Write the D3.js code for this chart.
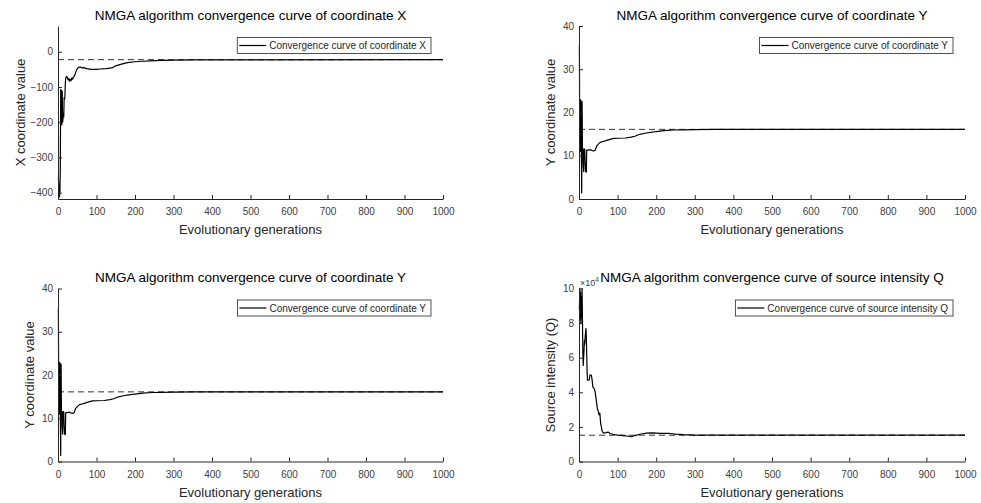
<!DOCTYPE html>
<html>
<head>
<meta charset="utf-8">
<script src="https://cdn.jsdelivr.net/npm/d3@7"></script>
<style>
body { margin: 0; background: #fff; }
svg text { font-family: "Liberation Sans", Arial, Helvetica, sans-serif; }
</style>
</head>
<body>
<script>
//generation ticks shared by all four panels
var genTicks = [0, 100, 200, 300, 400, 500, 600, 700, 800, 900, 1000];

//convergence curve of coordinate X: [generation, value]
var curveX = [[1,-358],[2,-380],[3,-405],[4,-412],[5,-395],[6,-330],[7,-107],[8,-205],[9,-110],[10,-208],
    [11,-112],[12,-200],[13,-190],[14,-175],[15,-185],[16,-130],[17,-135],[18,-125],[19,-90],[20,-75],
    [22,-70],[24,-72],[26,-80],[28,-76],[30,-84],[32,-78],[34,-82],[36,-74],[38,-78],[40,-72],
    [43,-68],[46,-58],[50,-48],[54,-44],[58,-43],[62,-46],[66,-45],[75,-48],[85,-50],[100,-50],
    [110,-49],[125,-48],[140,-46],[150,-40],[165,-35],[180,-31],[200,-28.5],[220,-27],[240,-25.8],
    [270,-24.8],[300,-24],[350,-23],[1000,-22.5]];

//convergence curve of coordinate Y
var curveY = [[1,35.4],[2,12],[3,23],[4,11],[5,22.8],[6,11.5],[7,1.4],[8,22.5],[9,11.3],[10,11.6],
    [11,8],[12,6.3],[13,11.5],[14,11.6],[15,11.4],[16,8],[17,6.3],[18,6.5],[19,6.2],[20,11.3],
    [25,11.3],[30,11.4],[34,11.2],[38,11.1],[42,11.3],[46,12.3],[50,12.7],[55,13.1],[62,13.3],[70,13.5],
    [80,13.8],[90,14.0],[100,14.05],[120,14.1],[135,14.3],[145,14.5],[155,14.9],[170,15.2],[185,15.4],
    [200,15.6],[220,15.8],[245,15.95],[270,16.0],[300,16.05],[350,16.1],[1000,16.1]];

//convergence curve of source intensity Q
var curveQ = [[1,88000],[2,100000],[3,82000],[4,98000],[5,80000],[6,95000],[7,83000],[8,100000],[9,81000],
    [10,62000],[11,55500],[12,60000],[13,64000],[14,70000],[15,68000],[16,72000],[17,75000],[18,77000],
    [19,72000],[20,62000],[21,52000],[22,47000],[25,47000],[27,47500],[28,50000],[32,50000],[34,47000],
    [36,43000],[40,42000],[42,40000],[45,35000],[48,30000],[50,29000],[52,27000],[54,28000],[56,22000],
    [58,20000],[60,17500],[63,16500],[68,16500],[72,16800],[76,17000],[80,16200],[90,15600],[100,15300],
    [115,15000],[128,14600],[136,14300],[145,15000],[160,15900],[175,16400],[192,16600],[210,16300],
    [235,16200],[250,15800],[270,15500],[300,15300],[370,15200],[1000,15200]];

//reference (true) values drawn as dashed lines
var refX = -22.5, refY = 16.1, refQ = 15200;

//axis ticks and text
var yTicksX = [-400, -300, -200, -100, 0];
var yTicksY = [0, 10, 20, 30, 40];
var yTicksQ = [0, 20000, 40000, 60000, 80000, 100000];
var titles = ["NMGA algorithm convergence curve of coordinate X",
    "NMGA algorithm convergence curve of coordinate Y",
    "NMGA algorithm convergence curve of coordinate Y",
    "NMGA algorithm convergence curve of source intensity Q"];
var yLabels = ["X coordinate value", "Y coordinate value", "Y coordinate value", "Source intensity (Q)"];
var legendLabels = ["Convergence curve of coordinate X", "Convergence curve of coordinate Y",
    "Convergence curve of coordinate Y", "Convergence curve of source intensity Q"];
var xLabel = "Evolutionary generations";

var width = 981,
    height = 503,
    ink = "#262626";

var svg = d3.select("body")
    .append("svg")
    .attr("width", width)
    .attr("height", height);

//panel frames
var panels = [
    {left: 58, top: 26, right: 443, bottom: 199, data: curveX, ref: refX, yDomain: [-418, 73], yTicks: yTicksX, fmt: d3.format("d"), ylabOff: 33},
    {left: 579, top: 26, right: 965, bottom: 199, data: curveY, ref: refY, yDomain: [0, 40], yTicks: yTicksY, fmt: d3.format("d"), ylabOff: 24},
    {left: 58, top: 288.5, right: 443, bottom: 461.5, data: curveY, ref: refY, yDomain: [0, 40], yTicks: yTicksY, fmt: d3.format("d"), ylabOff: 24},
    {left: 579, top: 288.5, right: 965, bottom: 461.5, data: curveQ, ref: refQ, yDomain: [0, 100000], yTicks: yTicksQ, fmt: function(d){ return d / 10000; }, ylabOff: 24, exponent: true}
];

panels.forEach(function(p, i){
    drawPanel(p, titles[i], yLabels[i], legendLabels[i]);
});

function drawPanel(p, title, yLabel, legendLabel){
    var g = svg.append("g");

    var x = d3.scaleLinear()
        .domain([0, 1000])
        .range([p.left, p.right]);

    var y = d3.scaleLinear()
        .domain(p.yDomain)
        .range([p.bottom, p.top]);

    //dashed reference line
    g.append("line")
        .attr("x1", x(0))
        .attr("x2", x(1000))
        .attr("y1", y(p.ref))
        .attr("y2", y(p.ref))
        .attr("stroke", "#333")
        .attr("stroke-width", 1)
        .attr("stroke-dasharray", "6,4");

    //convergence curve
    var line = d3.line()
        .x(function(d){ return x(d[0]); })
        .y(function(d){ return y(d[1]); });

    g.append("path")
        .datum(p.data)
        .attr("d", line)
        .attr("fill", "none")
        .attr("stroke", "#000")
        .attr("stroke-width", 1.2)
        .attr("stroke-linejoin", "round");

    //axes with inward ticks
    var xAxis = d3.axisBottom(x)
        .tickValues(genTicks)
        .tickFormat(d3.format("d"))
        .tickSize(-4)
        .tickSizeOuter(0)
        .tickPadding(9);

    var yAxis = d3.axisLeft(y)
        .tickValues(p.yTicks)
        .tickSize(-4)
        .tickSizeOuter(0)
        .tickPadding(5)
        .tickFormat(p.fmt);

    var gx = g.append("g")
        .attr("transform", "translate(0," + p.bottom + ")")
        .call(xAxis);

    var gy = g.append("g")
        .attr("transform", "translate(" + p.left + ",0)")
        .call(yAxis);

    [gx, gy].forEach(function(a){
        a.attr("font-family", null).attr("font-size", null);
        a.select(".domain").attr("stroke", ink);
        a.selectAll(".tick line").attr("stroke", ink);
        a.selectAll(".tick text").attr("fill", "#404040").style("font-size", "10px");
    });

    //title
    g.append("text")
        .attr("x", (p.left + p.right) / 2)
        .attr("y", p.top - 6.5)
        .attr("text-anchor", "middle")
        .attr("fill", "#000")
        .style("font-size", "13.5px")
        .text(title);

    //x label
    g.append("text")
        .attr("x", (p.left + p.right) / 2)
        .attr("y", p.bottom + 35)
        .attr("text-anchor", "middle")
        .attr("fill", ink)
        .style("font-size", "13px")
        .text(xLabel);

    //y label
    g.append("text")
        .attr("transform", "translate(" + (p.left - p.ylabOff) + "," + ((p.top + p.bottom) / 2) + ") rotate(-90)")
        .attr("text-anchor", "middle")
        .attr("fill", ink)
        .style("font-size", "13px")
        .text(yLabel);

    //x10^4 multiplier
    if (p.exponent){
        var ex = g.append("text")
            .attr("x", p.left + 1)
            .attr("y", p.top - 3)
            .attr("fill", "#404040")
            .style("font-size", "9px");
        ex.append("tspan").text("\u00d710");
        ex.append("tspan")
            .attr("dy", -4)
            .style("font-size", "6.5px")
            .text("4");
    }

    //legend
    var leg = g.append("g");
    var box = leg.append("rect")
        .attr("fill", "#fff")
        .attr("stroke", ink)
        .attr("stroke-width", 0.8);
    var lt = leg.append("text")
        .attr("fill", ink)
        .style("font-size", "10px")
        .text(legendLabel);
    var tw = lt.node().getComputedTextLength();
    var bw = tw + 37,
        bx = p.right - 12 - bw,
        by = p.top + 11.5;
    box.attr("x", bx).attr("y", by).attr("width", bw).attr("height", 16);
    lt.attr("x", bx + 32).attr("y", by + 11.5);
    leg.append("line")
        .attr("x1", bx + 2)
        .attr("x2", bx + 29)
        .attr("y1", by + 8)
        .attr("y2", by + 8)
        .attr("stroke", "#000")
        .attr("stroke-width", 1.2);
}
</script>
</body>
</html>
